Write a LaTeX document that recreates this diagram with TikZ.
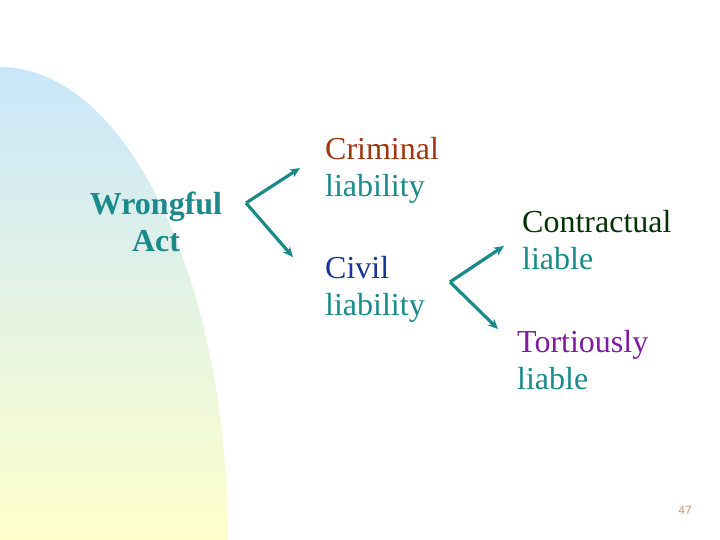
\documentclass[tikz,border=0pt]{standalone}
\usepackage{fontspec}
\setmainfont{Liberation Serif}
\newfontfamily\pgnumfont{Liberation Sans}
\usetikzlibrary{arrows.meta}
\definecolor{tealc}{HTML}{1A8A8A}
\definecolor{crimc}{HTML}{A0360F}
\definecolor{civc}{HTML}{1A3399}
\definecolor{contc}{HTML}{003300}
\definecolor{tortc}{HTML}{7F1A9F}
\definecolor{topblue}{HTML}{C9E7FB}
\definecolor{botyellow}{HTML}{FFFFCC}
\definecolor{pgc}{HTML}{C8956B}
\tikzset{
  lbl/.style={inner sep=0pt, font=\fontsize{32}{37}\selectfont, align=left, anchor=base west},
  conn/.style={draw=tealc, line width=3.2pt, -{Stealth[length=10pt,width=9pt]}, line join=miter}
}
\begin{document}
\begin{tikzpicture}[x=1pt,y=1pt]
\useasboundingbox (0,0) rectangle (720,540);
\shade[top color=topblue, bottom color=botyellow] (0,0) -- (0,473) arc[start angle=90,end angle=0,x radius=228,y radius=473] -- cycle;
\node[lbl, align=center, anchor=base, font=\fontsize{32}{37}\selectfont\bfseries, text=tealc] (wa) at (156,288) {Wrongful\\Act};
\node[lbl] (crim) at (325,343) {\textcolor{crimc}{Criminal}\\\textcolor{tealc}{liability}};
\node[lbl] (civ) at (325,224) {\textcolor{civc}{Civil}\\\textcolor{tealc}{liability}};
\node[lbl] (cont) at (522,270) {\textcolor{contc}{Contractual}\\\textcolor{tealc}{liable}};
\node[lbl] (tort) at (517,150) {\textcolor{tortc}{Tortiously}\\\textcolor{tealc}{liable}};
\node[font=\pgnumfont\fontsize{12}{14}\selectfont, text=pgc, inner sep=0pt] (pg) at (685,30) {47};
\coordinate (v1) at (246,337);
\coordinate (t1a) at (300,372);
\coordinate (t1b) at (293,283);
\coordinate (v2) at (450,258);
\coordinate (t2a) at (504,294);
\coordinate (t2b) at (498,211);
\draw[conn] (v1) -- (t1a);
\draw[conn] (v1) -- (t1b);
\draw[conn] (v2) -- (t2a);
\draw[conn] (v2) -- (t2b);
\end{tikzpicture}
\end{document}
